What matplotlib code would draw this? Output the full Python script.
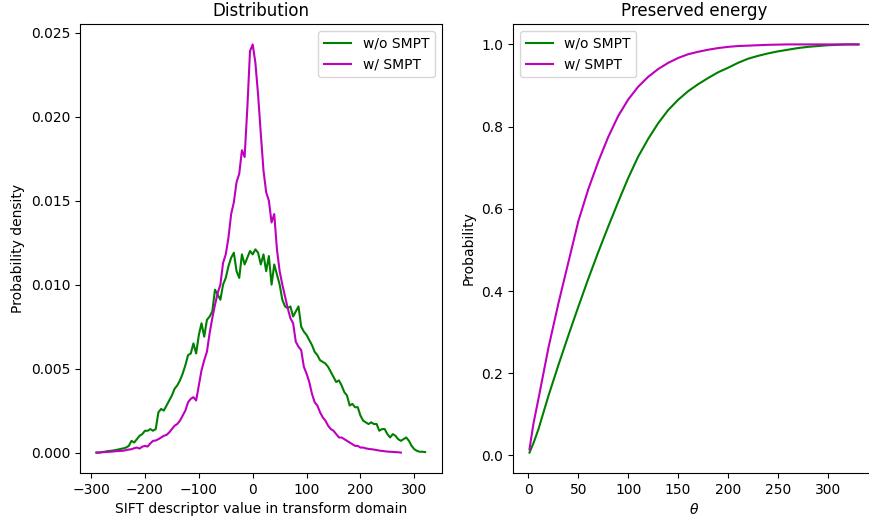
import numpy as np
import matplotlib
matplotlib.use("Agg")
import matplotlib.pyplot as plt

# Distribution: bin centres every 5 units, densities in units of 1e-4
dist_x_wo = np.arange(-290, 321, 5)
dist_wo = [
    0, 0, 0.3, 0.5, 0.8, 1, 1.2, 1.5, 1.8, 2.2,
    2.5, 3, 4, 7, 6, 8, 10, 11, 13, 13,
    14, 13, 14, 24, 26, 25, 28, 31, 34, 38,
    40, 43, 47, 52, 58, 59, 65, 59, 70, 77,
    69, 79, 81, 84, 97, 94, 91, 100, 104, 111,
    116, 119, 108, 104, 118, 112, 116, 120, 118, 121,
    119, 112, 118, 108, 117, 100, 112, 106, 100, 91,
    87, 86, 87, 81, 84, 87, 75, 72, 70, 67,
    64, 60, 58, 55, 54, 53, 51, 48, 45, 42,
    43, 40, 36, 34, 28, 29, 27, 27, 22, 19,
    18, 17, 18, 17, 17, 13, 14, 14, 11, 9,
    11, 10, 8, 7, 8, 9, 7, 4, 2, 1,
    0.5, 0.5, 0.3,
]

dist_x_w = np.arange(-290, 276, 5)
dist_w = [
    0, 0, 0.2, 0.3, 0.4, 0.5, 0.6, 0.8, 0.9, 1,
    1.1, 1.5, 1.8, 2, 2.6, 3, 2.4, 3.5, 4, 3.6,
    5.5, 7, 7.2, 8, 9, 10, 10.5, 12, 14, 16,
    17, 19, 22, 25, 30, 32, 33, 31, 40, 49,
    55, 60, 71, 80, 88, 95, 100, 113, 118, 128,
    142, 149, 161, 166, 180, 176, 205, 239, 243, 232,
    213, 190, 168, 155, 150, 137, 142, 121, 108, 100,
    93, 86, 80, 77, 66, 63, 61, 51, 47, 42,
    35, 30, 28, 24, 21, 19, 16, 14, 13, 11,
    9, 9, 8, 7, 6, 5, 4, 4, 3, 3,
    2.5, 2.2, 2, 1.8, 1.5, 1.2, 1, 0.8, 0.6, 0.5,
    0.4, 0.3, 0.2, 0,
]

# Preserved energy vs theta
theta = [1, 5, 10, 20, 30, 40, 50, 60, 70, 80, 90, 100, 110, 120, 130,
         140, 150, 160, 170, 180, 190, 200, 210, 220, 230, 240, 250,
         260, 270, 280, 290, 300, 310, 320, 331]
energy_wo = [0.007, 0.030, 0.064, 0.145, 0.220, 0.292, 0.362, 0.430, 0.495,
             0.557, 0.617, 0.675, 0.727, 0.770, 0.808, 0.840, 0.865, 0.886,
             0.903, 0.918, 0.932, 0.943, 0.955, 0.965, 0.972, 0.978, 0.983,
             0.987, 0.991, 0.994, 0.996, 0.998, 0.999, 1.0, 1.0]
energy_w = [0.015, 0.078, 0.138, 0.262, 0.370, 0.470, 0.570, 0.648, 0.715,
            0.775, 0.826, 0.866, 0.897, 0.921, 0.940, 0.955, 0.967, 0.976,
            0.982, 0.987, 0.991, 0.994, 0.996, 0.997, 0.998, 0.999, 0.9995,
            1.0, 1.0, 1.0, 1.0, 1.0, 1.0, 1.0, 1.0]

labels = ["w/o SMPT", "w/ SMPT"]

fig = plt.figure(figsize=(8.7, 5.23), dpi=100)
ax1 = fig.add_axes([0.092, 0.0956, 0.4155, 0.8585])
ax2 = fig.add_axes([0.5897, 0.0956, 0.416, 0.8585])

ax1.plot(dist_x_wo, np.array(dist_wo) * 1e-4, color="g", label=labels[0])
ax1.plot(dist_x_w, np.array(dist_w) * 1e-4, color="m", label=labels[1])
ax1.set_title("Distribution")
ax1.set_xlabel("SIFT descriptor value in transform domain")
ax1.set_ylabel("Probability density")
ax1.set_xticks([-300, -200, -100, 0, 100, 200, 300])
ax1.legend(loc="upper right")

ax2.plot(theta, energy_wo, color="g", label=labels[0])
ax2.plot(theta, energy_w, color="m", label=labels[1])
ax2.set_title("Preserved energy")
ax2.set_xlabel(r"$\theta$")
ax2.set_ylabel("Probability")
ax2.legend(loc="upper left")

fig.savefig("out.png", dpi=100)
plt.close(fig)
